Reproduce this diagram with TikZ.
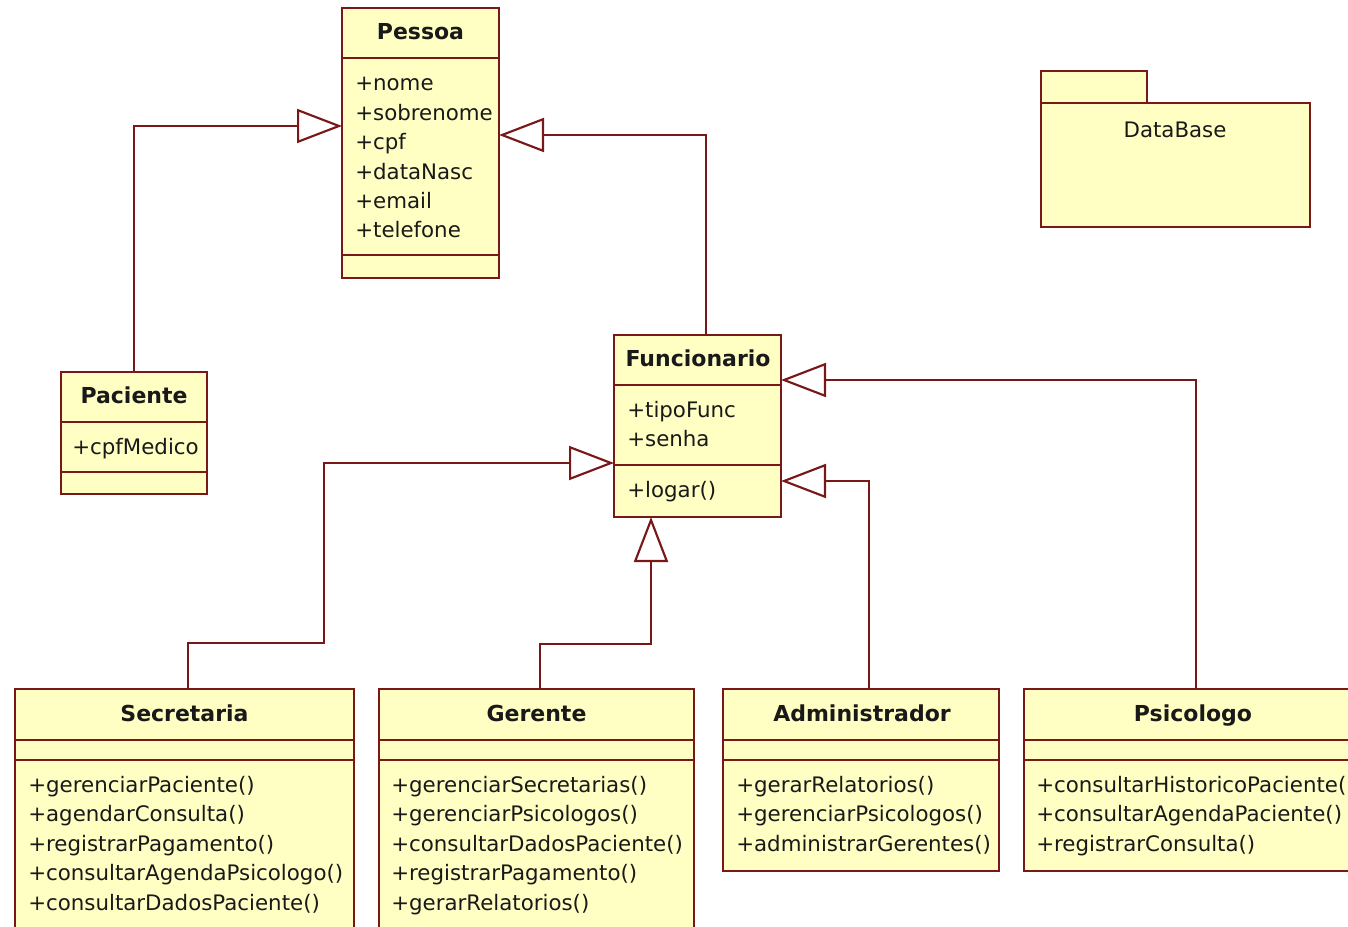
\documentclass[tikz,border=0pt]{standalone}
\usepackage{fontspec}
\setmainfont{DejaVu Sans}
\usetikzlibrary{arrows.meta}
\definecolor{umlborder}{RGB}{120,24,24}
\definecolor{umlfill}{RGB}{255,255,196}
\definecolor{umltext}{RGB}{25,25,25}
\def\px{0.75pt}
\begin{document}
\begin{tikzpicture}[x=0.75pt,y=-0.75pt,
  cls/.style={draw=umlborder, fill=umlfill, line width=1.6pt, anchor=north west, inner sep=0pt, outer sep=0pt},
  sep/.style={draw=umlborder, line width=1.6pt},
  title/.style={font=\fontsize{16.5}{19}\selectfont\bfseries, text=umltext, anchor=base, inner sep=0pt},
  plain/.style={font=\fontsize{16}{19}\selectfont, text=umltext, inner sep=0pt},
  txt/.style={font=\fontsize{16}{19}\selectfont, text=umltext, anchor=base west, inner sep=0pt},
  inh/.style={draw=umlborder, line width=1.6pt, -{Triangle[open, length=33.75pt, width=25.5pt]}}]
\useasboundingbox (0,0) rectangle (1348,927);
\fill[white] (0,0) rectangle (1348,927);

% Pessoa
\node[cls, minimum width=157*\px, minimum height=270*\px] (pes) at (342,8) {};
\draw[sep] (pes.west |- 0,58) -- (pes.east |- 0,58);
\draw[sep] (pes.west |- 0,255) -- (pes.east |- 0,255);
\node[title] (pes-t) at (420.5,40) {Pessoa};
\foreach \t [count=\i] in {+nome,+sobrenome,+cpf,+dataNasc,+email,+telefone}
  \node[txt] (pes-\i) at (355,{91+29.4*(\i-1)}) {\t};

% DataBase package
\node[cls, minimum width=106*\px, minimum height=32*\px] (dbtab) at (1041,71) {};
\node[cls, minimum width=269*\px, minimum height=124*\px] (db) at (1041,103) {};
\node[plain] (db-t) at (1175,130) {DataBase};

% Paciente
\node[cls, minimum width=146*\px, minimum height=122*\px] (pac) at (61,372) {};
\draw[sep] (pac.west |- 0,422) -- (pac.east |- 0,422);
\draw[sep] (pac.west |- 0,472) -- (pac.east |- 0,472);
\node[title] (pac-t) at (134,403) {Paciente};
\node[txt] (pac-1) at (72,454) {+cpfMedico};

% Funcionario
\node[cls, minimum width=167*\px, minimum height=182*\px] (fun) at (614,335) {};
\draw[sep] (fun.west |- 0,385) -- (fun.east |- 0,385);
\draw[sep] (fun.west |- 0,465) -- (fun.east |- 0,465);
\node[title] (fun-t) at (698,366) {Funcionario};
\node[txt] (fun-1) at (627,417) {+tipoFunc};
\node[txt] (fun-2) at (627,446) {+senha};
\node[txt] (fun-3) at (627,497) {+logar()};

% Secretaria
\node[cls, minimum width=339*\px, minimum height=270*\px] (sec) at (15,689) {};
\draw[sep] (sec.west |- 0,740) -- (sec.east |- 0,740);
\draw[sep] (sec.west |- 0,760) -- (sec.east |- 0,760);
\node[title] (sec-t) at (184.5,721) {Secretaria};
\foreach \t [count=\i] in {+gerenciarPaciente(),+agendarConsulta(),+registrarPagamento(),+consultarAgendaPsicologo(),+consultarDadosPaciente()}
  \node[txt] (sec-\i) at (28,{792+29.5*(\i-1)}) {\t};

% Gerente
\node[cls, minimum width=315*\px, minimum height=270*\px] (ger) at (379,689) {};
\draw[sep] (ger.west |- 0,740) -- (ger.east |- 0,740);
\draw[sep] (ger.west |- 0,760) -- (ger.east |- 0,760);
\node[title] (ger-t) at (536.5,721) {Gerente};
\foreach \t [count=\i] in {+gerenciarSecretarias(),+gerenciarPsicologos(),+consultarDadosPaciente(),+registrarPagamento(),+gerarRelatorios()}
  \node[txt] (ger-\i) at (391,{792+29.5*(\i-1)}) {\t};

% Administrador
\node[cls, minimum width=276*\px, minimum height=182*\px] (adm) at (723,689) {};
\draw[sep] (adm.west |- 0,740) -- (adm.east |- 0,740);
\draw[sep] (adm.west |- 0,760) -- (adm.east |- 0,760);
\node[title] (adm-t) at (862,721) {Administrador};
\foreach \t [count=\i] in {+gerarRelatorios(),+gerenciarPsicologos(),+administrarGerentes()}
  \node[txt] (adm-\i) at (736,{792+29.5*(\i-1)}) {\t};

% Psicologo
\node[cls, minimum width=340*\px, minimum height=182*\px] (psi) at (1024,689) {};
\draw[sep] (psi.west |- 0,740) -- (psi.east |- 0,740);
\draw[sep] (psi.west |- 0,760) -- (psi.east |- 0,760);
\node[title] (psi-t) at (1193,721) {Psicologo};
\foreach \t [count=\i] in {+consultarHistoricoPaciente(),+consultarAgendaPaciente(),+registrarConsulta()}
  \node[txt] (psi-\i) at (1036,{792+29.5*(\i-1)}) {\t};

% Generalizations
\draw[inh] (pac.north) |- (pes.west |- 0,126);
\draw[inh] (fun.north -| 706,0) |- (pes.east |- 0,135);
\draw[inh] (sec.north -| 188,0) |- (324,643) |- (fun.west |- 0,463);
\draw[inh] (ger.north -| 540,0) |- (651,644) -- (fun.south -| 651,0);
\draw[inh] (adm.north -| 869,0) |- (fun.east |- 0,481);
\draw[inh] (psi.north -| 1196,0) |- (fun.east |- 0,380);
\end{tikzpicture}
\end{document}
